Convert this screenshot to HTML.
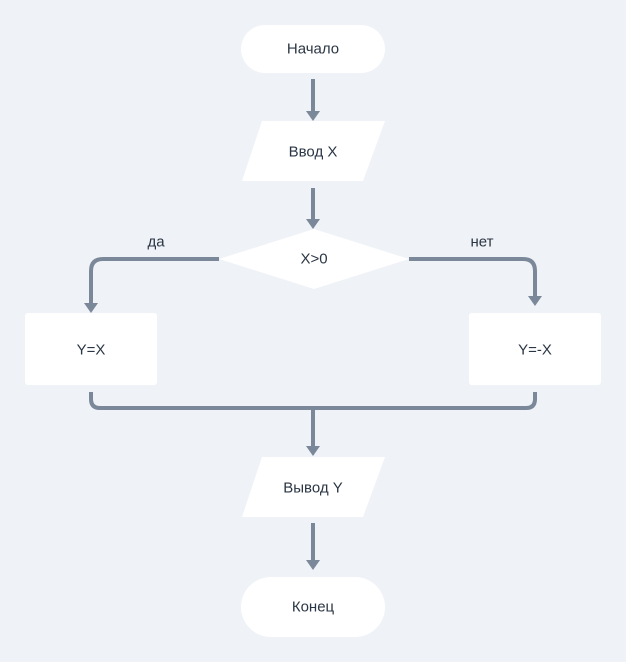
<!DOCTYPE html>
<html><head><meta charset="utf-8"><style>
html,body{margin:0;padding:0;background:#eff2f6;}
svg{display:block}
text{font-family:"Liberation Sans","DejaVu Sans",sans-serif;font-size:15px;fill:#2b3644;text-anchor:middle;dominant-baseline:central}
</style></head><body>
<svg width="626" height="662" viewBox="0 0 626 662">
<rect width="626" height="662" fill="#eff2f6"/>
<g fill="none" stroke="#7a8899" stroke-width="4">
<line x1="313" y1="79" x2="313" y2="112"/>
<line x1="313" y1="188" x2="313" y2="220"/>
<path d="M219 259 H103 Q91 259 91 271 V304"/>
<path d="M409 259 H523 Q535 259 535 271 V296"/>
<path d="M91 392 V399 Q91 408 100 408 H526 Q535 408 535 399 V392"/>
<line x1="313" y1="408" x2="313" y2="447"/>
<line x1="313" y1="523" x2="313" y2="560"/>
</g>
<g fill="#7a8899">
<polygon points="306,111 320,111 313,121"/>
<polygon points="306,219 320,219 313,229"/>
<polygon points="84,303 98,303 91,313"/>
<polygon points="528,296 542,296 535,306"/>
<polygon points="306,446 320,446 313,456"/>
<polygon points="306,560 320,560 313,570"/>
</g>
<g fill="#fff">
<rect x="241" y="25" width="144" height="48" rx="24"/>
<polygon points="262,121 385,121 363,181 242,181"/>
<polygon points="219,259 314,229 409,259 314,289"/>
<rect x="25" y="313" width="132" height="72" rx="3"/>
<rect x="469" y="313" width="132" height="72" rx="3"/>
<polygon points="262,457 385,457 363,517 242,517"/>
<rect x="241" y="577" width="144" height="60" rx="30"/>
</g>
<text x="313" y="49">Начало</text>
<text x="313" y="152">Ввод X</text>
<text x="314" y="259">X&gt;0</text>
<text x="156" y="242">да</text>
<text x="482" y="242">нет</text>
<text x="91" y="350">Y=X</text>
<text x="535" y="350">Y=-X</text>
<text x="313" y="488">Вывод Y</text>
<text x="313" y="607">Конец</text>
</svg>
</body></html>
